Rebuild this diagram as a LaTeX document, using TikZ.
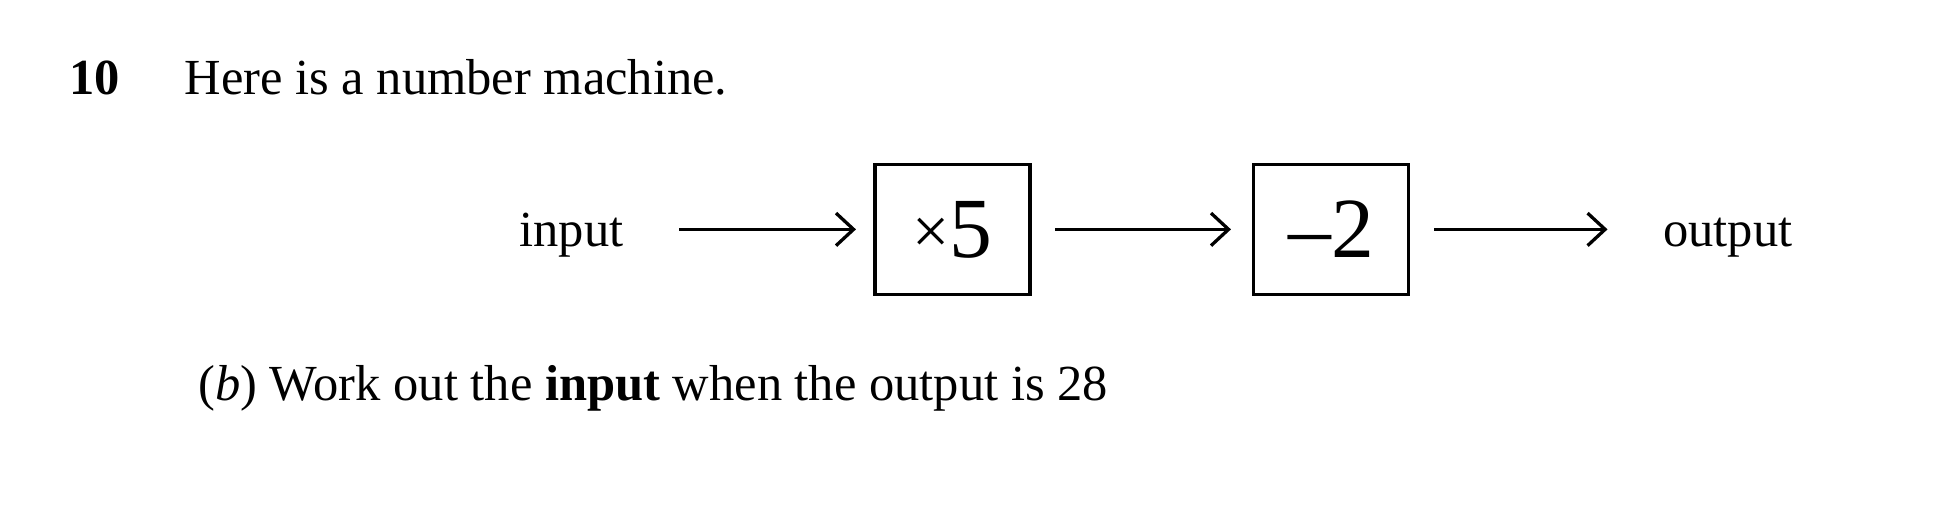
\documentclass[tikz,border=0pt]{standalone}
\usepackage{fontspec}
\setmainfont{Liberation Serif}
\usetikzlibrary{arrows.meta}
\tikzset{machine/.style={draw, line width=0.7pt, minimum width=1.24cm, minimum height=1.04cm, inner sep=0pt, font=\fontsize{19.5}{23}\selectfont}}
\tikzset{flow/.style={-{Straight Barb[length=1.4mm, width=2.6mm]}, line width=0.75pt}}
\tikzset{label/.style={anchor=base west, inner sep=0pt}}

\begin{document}
\begin{tikzpicture}[font=\fontsize{11.5}{14}\selectfont]
            \useasboundingbox (0,0) rectangle (15.56,-4.136);
            \node[label, font=\fontsize{11.5}{14}\selectfont\bfseries] (qnum) at (0.55,-0.76) {10};
            \node[label] (intro) at (1.47,-0.76) {Here is a number machine.};
            \node[label] (inp) at (4.15,-1.97) {input};
            \node[machine] (times) at (7.62,-1.835) {\raisebox{0.9pt}{\fontsize{15}{18}\selectfont ×}5};
            \node[machine] (minus) at (10.65,-1.835) {--2};
            \node[label] (outp) at (13.30,-1.97) {output};
            \node[label] (partb) at (1.58,-3.20) {(\textit{b})\ Work out the \textbf{input} when the output is 28};
            \draw[flow, shorten <=4.4mm, shorten >=1.4mm] (inp.east |- times.west) -- (times.west);
            \draw[flow, shorten <=1.9mm, shorten >=1.7mm] (times.east) -- (minus.west);
            \draw[flow, shorten <=1.9mm, shorten >=4.4mm] (minus.east) -- (outp.west |- minus.east);
        \end{tikzpicture}
\end{document}
